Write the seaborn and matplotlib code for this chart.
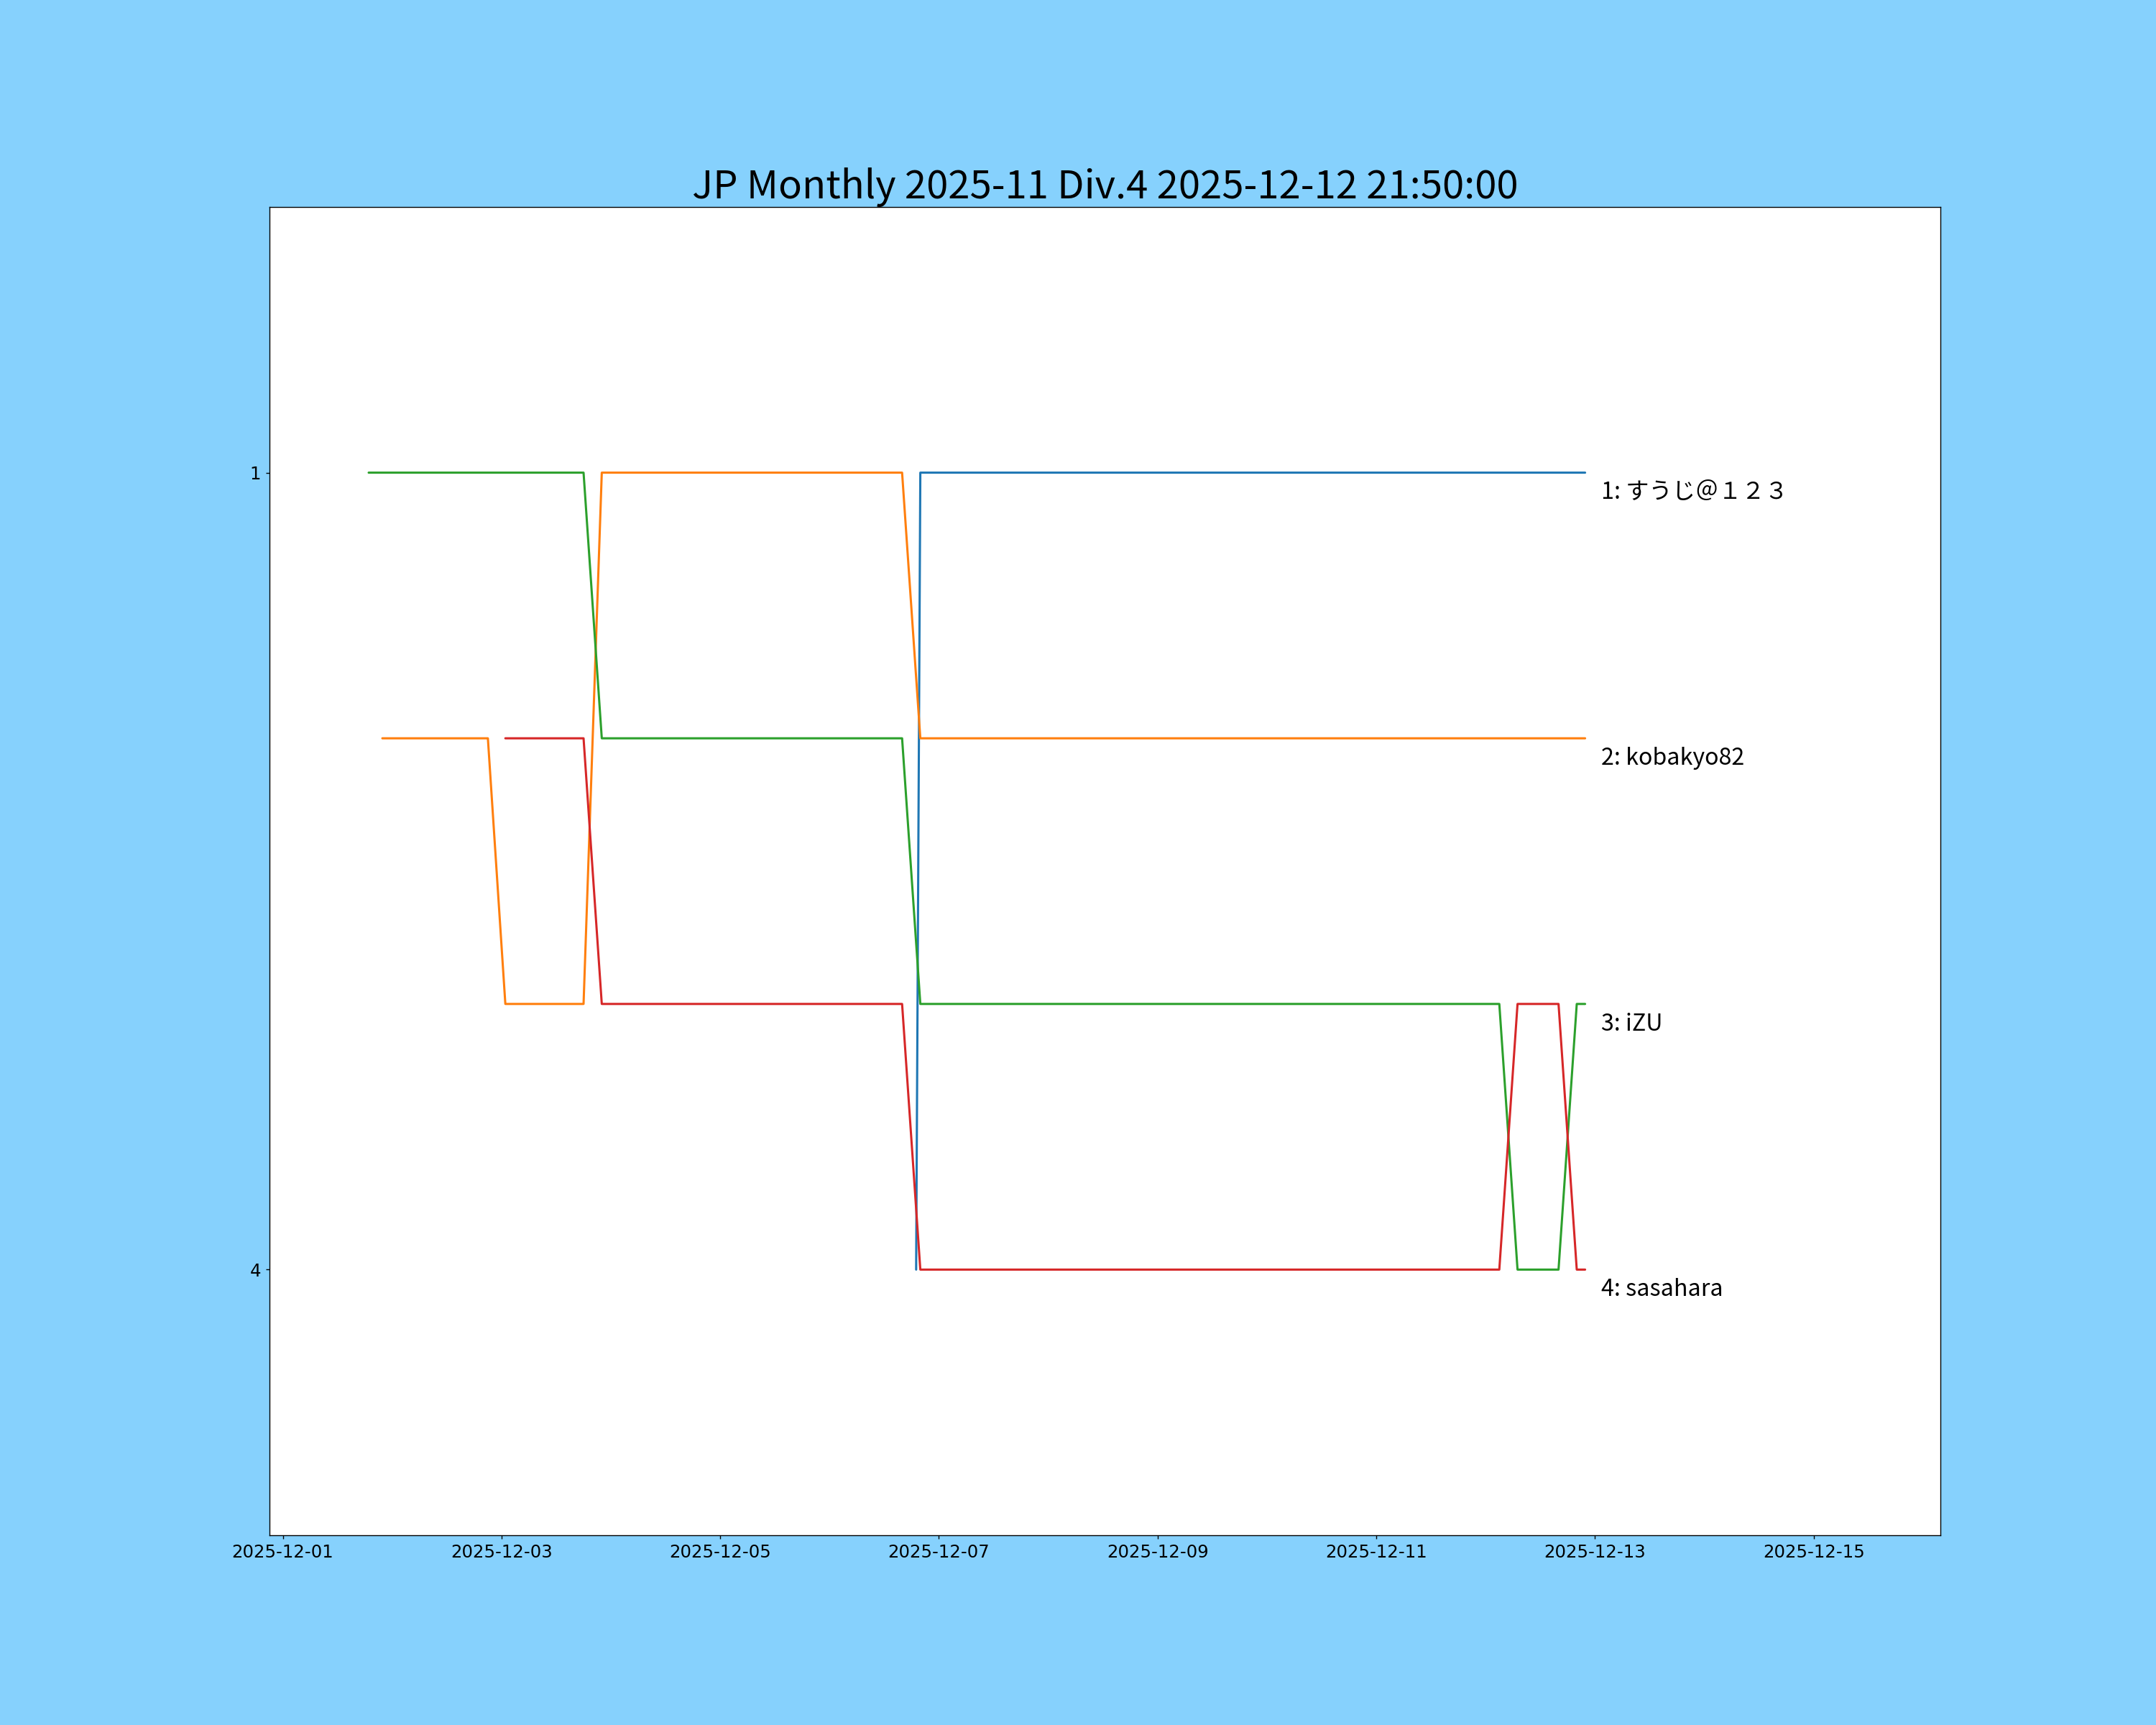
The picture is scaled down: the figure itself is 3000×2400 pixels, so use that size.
import pandas as pd
import matplotlib
matplotlib.use("Agg")
import matplotlib.pyplot as plt
import matplotlib.dates as mdates
import seaborn as sns

# Data (rank snapshots per player)
players = ["1: すうじ＠１２３", "2: kobakyo82", "3: iZU", "4: sasahara"]

p1_times = ["2025-12-06 19:00", "2025-12-06 19:55", "2025-12-12 21:50"]
p1_ranks = [4, 1, 1]

p2_times = ["2025-12-01 21:50", "2025-12-02 21:00", "2025-12-03 00:50", "2025-12-03 18:00",
            "2025-12-03 22:00", "2025-12-06 15:55", "2025-12-06 19:55", "2025-12-12 21:50"]
p2_ranks = [2, 2, 3, 3, 1, 1, 2, 2]

p3_times = ["2025-12-01 18:50", "2025-12-03 18:00", "2025-12-03 22:00", "2025-12-06 15:55",
            "2025-12-06 19:55", "2025-12-12 03:00", "2025-12-12 07:00", "2025-12-12 16:00",
            "2025-12-12 20:00", "2025-12-12 21:50"]
p3_ranks = [1, 1, 2, 2, 3, 3, 4, 4, 3, 3]

p4_times = ["2025-12-03 00:50", "2025-12-03 18:00", "2025-12-03 22:00", "2025-12-06 15:55",
            "2025-12-06 19:55", "2025-12-12 03:00", "2025-12-12 07:00", "2025-12-12 16:00",
            "2025-12-12 20:00", "2025-12-12 21:50"]
p4_ranks = [2, 2, 3, 3, 4, 4, 3, 3, 4, 4]

title = "JP Monthly 2025-11 Div.4 2025-12-12 21:50:00"

# Build long table
frames = []
for name, t, r in zip(players,
                      [p1_times, p2_times, p3_times, p4_times],
                      [p1_ranks, p2_ranks, p3_ranks, p4_ranks]):
    frames.append(pd.DataFrame({"time": pd.to_datetime(t), "rank": r, "player": name}))
df = pd.concat(frames, ignore_index=True)

# Style
sns.set_style("ticks", {"axes.edgecolor": "black", "text.color": "black",
                        "xtick.color": "black", "ytick.color": "black"})
plt.rcParams["font.family"] = ["DejaVu Sans"]

fig, ax = plt.subplots(figsize=(15, 12), dpi=200)
fig.patch.set_facecolor("#86d1fd")
fig.subplots_adjust(left=0.125, right=0.9, top=0.88, bottom=0.11)

palette = sns.color_palette("tab10", 4)
sns.lineplot(data=df, x="time", y="rank", hue="player", hue_order=players,
             palette=palette, estimator=None, sort=False, legend=False,
             linewidth=1.1, ax=ax)

# Name labels at the end of each line
for name in players:
    last = df[df["player"] == name].iloc[-1]
    ax.text(last["time"] + pd.Timedelta(hours=3.6), last["rank"] + 0.075, name,
            va="center", ha="left", fontsize=11.6,
            family=["Noto Sans CJK JP", "DejaVu Sans"])

ax.set_ylim(5, 0)
ax.set_yticks([1, 4])
ax.set_xlim(pd.Timestamp("2025-11-30 21:04"), pd.Timestamp("2025-12-16 03:49"))
ax.xaxis.set_major_locator(mdates.DayLocator(bymonthday=range(1, 32, 2)))
ax.xaxis.set_major_formatter(mdates.DateFormatter("%Y-%m-%d"))
ax.tick_params(labelsize=8.8, length=1.8, width=0.5, pad=2.5)
for s in ax.spines.values():
    s.set_linewidth(0.5)
ax.set_xlabel("")
ax.set_ylabel("")
ax.set_title(title, fontsize=19.6, family=["Noto Sans CJK JP", "DejaVu Sans"], pad=3)

plt.savefig("out.png", dpi=200, facecolor=fig.get_facecolor())
